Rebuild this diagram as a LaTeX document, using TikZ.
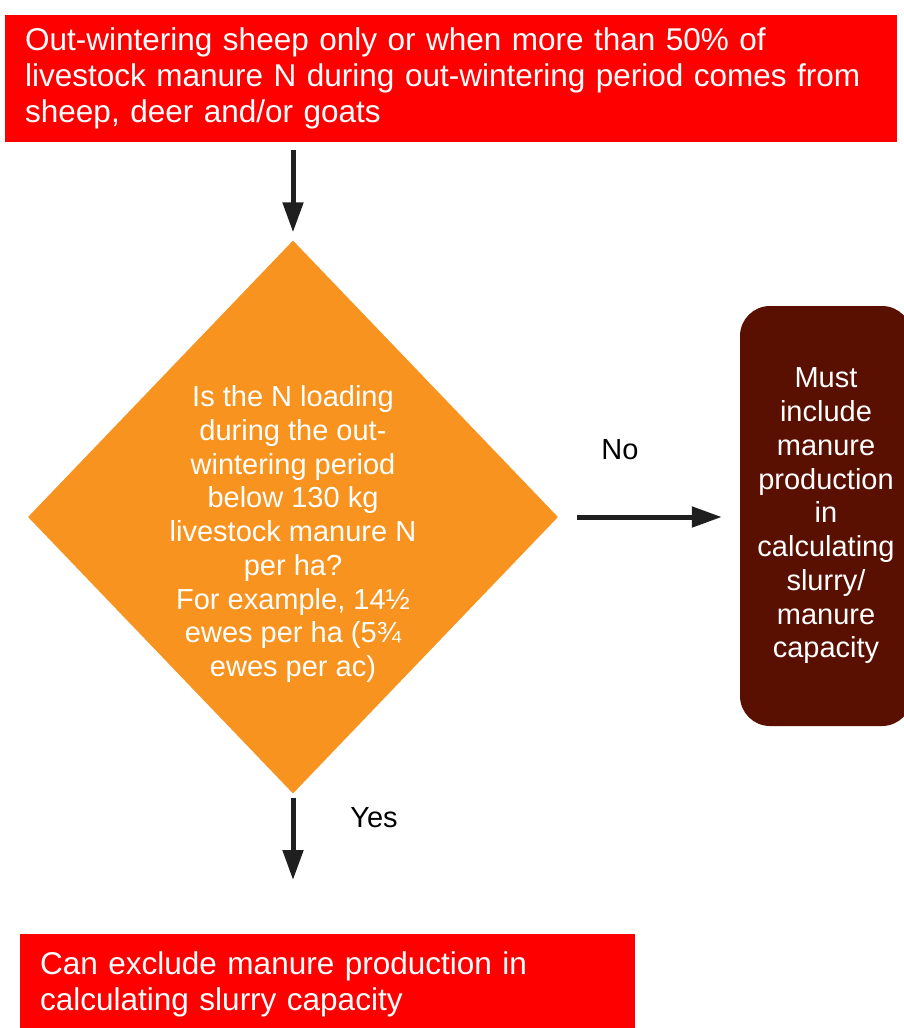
\documentclass[tikz,border=0pt]{standalone}
\usepackage{fontspec}
\setmainfont{Liberation Sans}
\usetikzlibrary{positioning}
\usetikzlibrary{shapes.geometric,arrows.meta}
\definecolor{boxred}{HTML}{FF0000}
\definecolor{qorange}{HTML}{F7931E}
\definecolor{darkbrown}{HTML}{5A1000}
\tikzset{
  every node/.style={font=\fontsize{29}{33.75}\selectfont},
  redbox/.style={fill=boxred, text=white, align=left, anchor=north west, inner xsep=20pt, inner ysep=0pt,
                 font=\fontsize{31.5}{36}\selectfont},
  flowarrow/.style={line width=5pt, draw=black!88, -{Triangle[width=20pt,length=30pt]}},
}

\begin{document}
\begin{tikzpicture}[x=1pt,y=-1pt]
  \useasboundingbox (0,0) rectangle (903,1028);

  % start and end boxes
  \node [redbox, minimum width=892pt, minimum height=127pt, text width=852pt] (start) at (5,15)
    {Out-wintering sheep only or when more than 50\% of\\livestock manure N during out-wintering period comes from\\sheep, deer and/or goats};
  \node [redbox, minimum width=615pt, minimum height=100pt, text width=575pt] (exclude) at (20,934)
    {Can exclude manure production in\\calculating slurry capacity};

  % the question
  \node [diamond, fill=qorange, minimum width=530pt, minimum height=553pt, inner sep=0pt,
         label={[text=white, align=center, yshift=-17pt]center:Is the N loading\\during the out-\\wintering period\\below 130 kg\\livestock manure N\\per ha?\\For example, 14½\\ewes per ha (5¾\\ewes per ac)}] (q) at (293,517) {};

  \node [rectangle, rounded corners=30pt, fill=darkbrown, text=white, align=center,
         minimum width=172pt, minimum height=420pt] (include) at (826,516)
    {Must\\include\\manure\\production\\in\\calculating\\slurry/\\manure\\capacity};

  \draw [flowarrow, shorten <=8pt, shorten >=8pt] (q.north |- start.south) -- (q.north);
  \draw [flowarrow, shorten <=19pt, shorten >=18pt] (q.east) -- (include.west |- q.east);
  \draw [flowarrow, shorten <=4pt, shorten >=54pt] (q.south) -- (q.south |- exclude.north);

  \node (no) at (620,450) {No};
  \node (yes) at (374,818) {Yes};
\end{tikzpicture}
\end{document}
